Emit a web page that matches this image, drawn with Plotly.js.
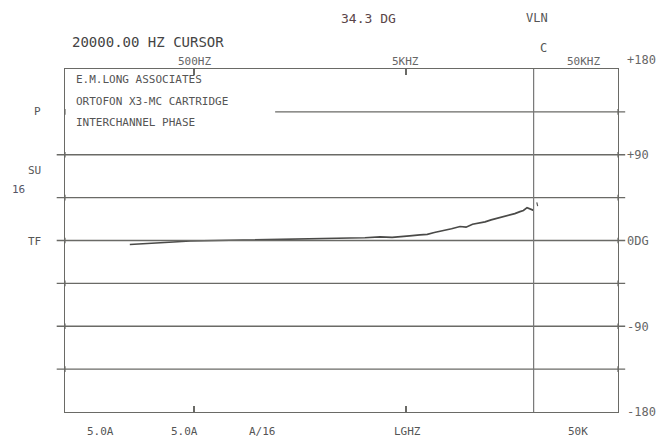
<!DOCTYPE html>
<html>
<head>
<meta charset="utf-8">
<script src="https://cdn.plot.ly/plotly-3.0.1.min.js"></script>
<style>html,body{margin:0;padding:0;background:#fff;}#chart{width:663px;height:440px;}</style>
</head>
<body>
<div id="chart"></div>
<script>
// Data
const freqHz = [249, 300, 346, 400, 479, 600, 750, 918, 1100, 1300, 1581, 1900, 2300, 2722, 3200, 3770, 4300, 4800, 5200, 5820, 6300, 6800, 7236, 7700, 8200, 8990, 9600, 10300, 11166, 11800, 12600, 13877, 14600, 15475, 16300, 17250, 17900, 18620, 19100, 19449, 20000];
const phaseDeg = [-4.2, -3.4, -2.6, -1.6, -0.5, -0.2, 0.2, 0.5, 0.9, 1.2, 1.6, 2.0, 2.3, 2.6, 2.9, 3.7, 3.2, 3.8, 4.9, 6.0, 6.5, 8.4, 9.6, 10.9, 12.3, 14.7, 14.0, 17.1, 18.6, 19.6, 21.7, 24.1, 24.9, 27.0, 28.2, 30.3, 31.5, 34.5, 33.6, 33.0, 31.6];
const markFreq = [20700, 20900];
const markPhase = [40, 36];
const cursorHz = 20000;
const gridPhase = [135, 90, 45, 0, -45, -90, -135];
const topTickText = ['500HZ', '5KHZ', '50KHZ'];
const rightTickText = ['+180', '+90', '0DG', '-90', '-180'];
const bottomLabels = ['5.0A', '5.0A', 'A/16', 'LGHZ', '50K'];
const bottomLabelX = [100, 184, 262, 407, 578];
const leftLabels = ['P', 'SU', '16', 'TF'];
const leftLabelXY = [[37, 111], [34, 170], [18, 189], [34, 241]];
const boxLines = ['E.M.LONG ASSOCIATES', 'ORTOFON X3-MC CARTRIDGE', 'INTERCHANNEL PHASE'];

const W = 663, H = 440;
const mono = 'DejaVu Sans Mono';
const gridColor = '#6a6a66';
const L = 65, R = 45, T = 69, B = 28;
const pw = W - L - R, ph = H - T - B;

const shapes = [];
gridPhase.forEach(g => {
  shapes.push({type: 'line', xref: 'paper', yref: 'y', x0: g === 135 ? 0.38 : -0.015, x1: 1.013, y0: g, y1: g,
    line: {color: gridColor, width: 1.4}});
  [0, 1].forEach(px => shapes.push({type: 'line', xref: 'paper', yref: 'y', x0: px, x1: px, y0: g - 3, y1: g + 3,
    line: {color: gridColor, width: 1.2}}));
});
shapes.push({type: 'line', xref: 'x', yref: 'paper', x0: cursorHz, x1: cursorHz, y0: 0, y1: 1,
  line: {color: '#777', width: 1.2}});

const annotations = [];
function ptxt(text, px, py, size, color, anchor) {
  annotations.push({text: text, xref: 'paper', yref: 'paper', x: (px - L) / pw, y: 1 - (py - T) / ph,
    xanchor: anchor || 'center', yanchor: 'middle', showarrow: false,
    font: {family: mono, size: size, color: color}});
}
ptxt('34.3 DG', 368, 18, 13, '#5a4548');
ptxt('VLN', 537, 18, 12, '#555');
ptxt('20000.00 HZ CURSOR', 70, 42, 14, '#444', 'left');
ptxt('C', 543, 48, 12, '#555');
const topPx = [194, 405, 583];
topTickText.forEach((t, i) => ptxt(t, topPx[i], 61, 11, '#666'));
const rightPy = [60, 155, 241, 327, 412];
rightTickText.forEach((t, i) => ptxt(t, 625, rightPy[i], 12, '#666', 'left'));
bottomLabels.forEach((t, i) => ptxt(t, bottomLabelX[i], 431, 11, '#555'));
leftLabels.forEach((t, i) => ptxt(t, leftLabelXY[i][0], leftLabelXY[i][1], 11, i === 2 ? '#556' : '#555'));
boxLines.forEach((t, i) => ptxt(t, 74, 80 + i * 21, 11, '#555', 'left'));

const traces = [
  {x: freqHz, y: phaseDeg, type: 'scatter', mode: 'lines', line: {color: '#4a4a48', width: 1.7}, hoverinfo: 'skip'},
  {x: markFreq, y: markPhase, type: 'scatter', mode: 'lines', line: {color: '#555', width: 1.2}, hoverinfo: 'skip'}
];

const layout = {
  width: W, height: H,
  margin: {l: L, r: R, t: T, b: B},
  paper_bgcolor: '#fff', plot_bgcolor: '#fff',
  showlegend: false,
  xaxis: {type: 'log', range: [2.0905, 4.699], showgrid: false, zeroline: false,
    showline: true, linecolor: gridColor, linewidth: 1.4, mirror: 'ticks',
    tickvals: [500, 5000], ticks: 'inside', ticklen: 6, tickcolor: gridColor, tickwidth: 1.2,
    showticklabels: false},
  yaxis: {range: [-180, 180], showgrid: false, zeroline: false,
    showline: true, linecolor: gridColor, linewidth: 1.4, mirror: true,
    ticks: '', showticklabels: false},
  shapes: shapes,
  annotations: annotations
};
Plotly.newPlot('chart', traces, layout, {staticPlot: true, displayModeBar: false});
</script>
</body>
</html>
